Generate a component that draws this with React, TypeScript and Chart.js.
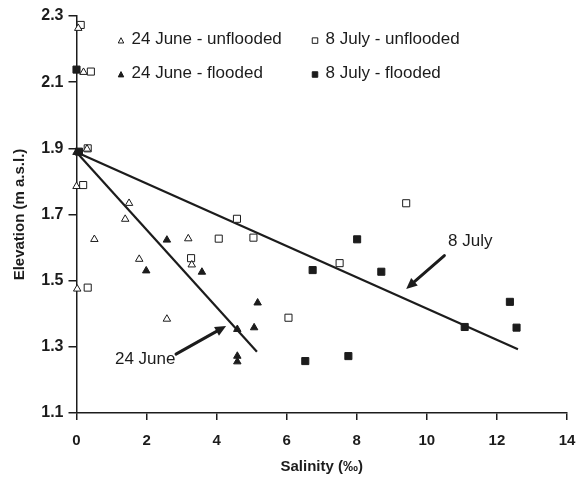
import React, { useEffect, useRef } from "react";
import { Chart, registerables } from "chart.js";

Chart.register(...registerables);

// ---- Data ----
const juneUnfloodedSalinity = [0.05, 0.2, 0.3, 0.0, 1.5, 1.39, 0.51, 3.19, 1.79, 3.29, 0.02, 2.58];
const juneUnfloodedElevation = [2.263, 2.13, 1.898, 1.785, 1.734, 1.686, 1.625, 1.627, 1.565, 1.548, 1.475, 1.384];

const juneFloodedSalinity = [0.0, 2.58, 1.99, 3.58, 5.17, 4.59, 5.07, 4.59, 4.59];
const juneFloodedElevation = [1.888, 1.623, 1.53, 1.526, 1.433, 1.353, 1.358, 1.272, 1.255];

const julyUnfloodedSalinity = [0.12, 0.41, 0.32, 0.19, 4.06, 5.05, 4.58, 3.27, 0.32, 7.51, 6.05, 9.41];
const julyUnfloodedElevation = [2.273, 2.132, 1.9, 1.789, 1.627, 1.63, 1.687, 1.568, 1.479, 1.553, 1.388, 1.734];

const julyFloodedSalinity = [0.0, 0.07, 6.74, 8.01, 8.7, 6.53, 7.76, 11.08, 12.37, 12.56];
const julyFloodedElevation = [2.138, 1.89, 1.532, 1.625, 1.527, 1.257, 1.272, 1.36, 1.436, 1.358];

const juneFitSalinity = [0, 5.15];
const juneFitElevation = [1.888, 1.285];
const julyFitSalinity = [0, 12.6];
const julyFitElevation = [1.888, 1.293];

const legendLabels = ["24 June - unflooded", "24 June - flooded", "8 July - unflooded", "8 July - flooded"];

const annotationLabels = ["24 June", "8 July"];
const annotationTextSalinity = [1.96, 11.24];
const annotationTextElevation = [1.262, 1.62];
const arrowTailSalinity = [2.84, 10.5];
const arrowTailElevation = [1.278, 1.576];
const arrowTipSalinity = [4.27, 9.41];
const arrowTipElevation = [1.363, 1.475];

const xMin = 0, xMax = 14, xStep = 2;
const yMin = 1.1, yMax = 2.3, yStep = 0.2;

const xTitle = "Salinity (‰)";
const yTitle = "Elevation (m a.s.l.)";

const FONT = '"Liberation Sans", Arial, Helvetica, sans-serif';
const INK = "#1c1c1c";

const zip = (xs: number[], ys: number[]) => xs.map((x, i) => ({ x, y: ys[i] }));

function drawMarker(ctx: CanvasRenderingContext2D, kind: string, filled: boolean, cx: number, cy: number, s: number) {
  ctx.beginPath();
  if (kind === "triangle") {
    const h = s * 0.87;
    ctx.moveTo(cx, cy - h / 2 - 0.5);
    ctx.lineTo(cx + s / 2, cy + h / 2);
    ctx.lineTo(cx - s / 2, cy + h / 2);
    ctx.closePath();
  } else {
    ctx.rect(cx - s / 2, cy - s / 2, s, s);
  }
  ctx.fillStyle = filled ? INK : "#ffffff";
  ctx.fill();
  ctx.lineWidth = 1;
  ctx.strokeStyle = INK;
  ctx.stroke();
}

const overlayPlugin = {
  id: "overlay",
  afterDatasetsDraw(chart: any) {
    const { ctx, chartArea, scales } = chart;
    const xs = scales.x;
    const ys = scales.y;
    ctx.save();
    // Legend (2 x 2 grid)
    const kinds = ["triangle", "triangle", "rect", "rect"];
    const filled = [false, true, false, true];
    const colOffsets = [44.5, 238.5];
    const rowOffsets = [23.6, 57.5];
    ctx.font = `17px ${FONT}`;
    ctx.textAlign = "left";
    ctx.textBaseline = "middle";
    legendLabels.forEach((lab, i) => {
      const col = Math.floor(i / 2);
      const row = i % 2;
      const mx = chartArea.left + colOffsets[col];
      const my = chartArea.top + rowOffsets[row];
      drawMarker(ctx, kinds[i], filled[i], mx, my + 1, 5.5);
      ctx.fillStyle = INK;
      ctx.fillText(lab, mx + 10.5, my);
    });

    // Arrows
    arrowTailSalinity.forEach((_, i) => {
      const x0 = xs.getPixelForValue(arrowTailSalinity[i]);
      const y0 = ys.getPixelForValue(arrowTailElevation[i]);
      const x1 = xs.getPixelForValue(arrowTipSalinity[i]);
      const y1 = ys.getPixelForValue(arrowTipElevation[i]);
      const ang = Math.atan2(y1 - y0, x1 - x0);
      const headLen = 11;
      const headW = 5;
      const bx = x1 - Math.cos(ang) * headLen;
      const by = y1 - Math.sin(ang) * headLen;
      ctx.beginPath();
      ctx.moveTo(x0, y0);
      ctx.lineTo(bx, by);
      ctx.lineWidth = 3;
      ctx.strokeStyle = INK;
      ctx.lineCap = "round";
      ctx.stroke();
      ctx.beginPath();
      ctx.moveTo(x1, y1);
      ctx.lineTo(bx + Math.sin(ang) * headW, by - Math.cos(ang) * headW);
      ctx.lineTo(bx - Math.sin(ang) * headW, by + Math.cos(ang) * headW);
      ctx.closePath();
      ctx.fillStyle = INK;
      ctx.fill();
    });

    // Annotation labels
    ctx.font = `17px ${FONT}`;
    ctx.textAlign = "center";
    ctx.textBaseline = "middle";
    ctx.fillStyle = INK;
    annotationLabels.forEach((lab, i) => {
      ctx.fillText(lab, xs.getPixelForValue(annotationTextSalinity[i]), ys.getPixelForValue(annotationTextElevation[i]));
    });
    ctx.restore();
  },
};

export default function App() {
  const canvasRef = useRef<HTMLCanvasElement | null>(null);

  useEffect(() => {
    document.body.style.margin = "0";
    const canvas = canvasRef.current;
    if (!canvas) return;

    const openStyle = { backgroundColor: "#ffffff", borderColor: INK, borderWidth: 1 };
    const fillStyle = { backgroundColor: INK, borderColor: INK, borderWidth: 1 };

    const chart = new Chart(canvas, {
      type: "scatter",
      data: {
        datasets: [
          {
            label: "24 June fit",
            data: zip(juneFitSalinity, juneFitElevation),
            showLine: true,
            borderColor: INK,
            borderWidth: 2.2,
            pointRadius: 0,
            order: 10,
            clip: false,
          },
          {
            label: "8 July fit",
            data: zip(julyFitSalinity, julyFitElevation),
            showLine: true,
            borderColor: INK,
            borderWidth: 2.2,
            pointRadius: 0,
            order: 10,
            clip: false,
          },
          {
            label: legendLabels[2],
            data: zip(julyUnfloodedSalinity, julyUnfloodedElevation),
            pointStyle: "rect",
            pointRadius: 5,
            ...openStyle,
            order: 4,
            clip: false,
          },
          {
            label: legendLabels[3],
            data: zip(julyFloodedSalinity, julyFloodedElevation),
            pointStyle: "rect",
            pointRadius: 5,
            ...fillStyle,
            order: 3,
            clip: false,
          },
          {
            label: legendLabels[0],
            data: zip(juneUnfloodedSalinity, juneUnfloodedElevation),
            pointStyle: "triangle",
            pointRadius: 4.3,
            ...openStyle,
            order: 2,
            clip: false,
          },
          {
            label: legendLabels[1],
            data: zip(juneFloodedSalinity, juneFloodedElevation),
            pointStyle: "triangle",
            pointRadius: 4.3,
            ...fillStyle,
            order: 1,
            clip: false,
          },
        ],
      },
      options: {
        animation: false,
        responsive: false,
        maintainAspectRatio: false,
        layout: { padding: { left: 0, right: 9, top: 16, bottom: 0 } },
        plugins: {
          legend: { display: false },
          tooltip: { enabled: false },
          title: { display: false },
        },
        scales: {
          x: {
            type: "linear",
            min: xMin,
            max: xMax,
            afterFit: (scale: any) => {
              scale.height = 68;
              scale.paddingRight = 0;
              scale.paddingLeft = 0;
            },
            ticks: {
              stepSize: xStep,
              color: INK,
              font: { family: FONT, size: 15, weight: "bold" },
              padding: 12,
              maxRotation: 0,
            },
            grid: {
              display: true,
              drawOnChartArea: false,
              drawTicks: true,
              tickLength: 7,
              color: INK,
              lineWidth: 1.5,
            },
            border: { display: true, color: INK, width: 1.5 },
            title: {
              display: true,
              text: xTitle,
              color: INK,
              font: { family: FONT, size: 15, weight: "bold" },
              padding: { top: 0, bottom: 5 },
            },
          },
          y: {
            type: "linear",
            min: yMin,
            max: yMax,
            afterFit: (scale: any) => {
              scale.width = 76.5;
              scale.paddingTop = 0;
              scale.paddingBottom = 0;
            },
            ticks: {
              stepSize: yStep,
              color: INK,
              font: { family: FONT, size: 16, weight: "bold" },
              padding: 5,
              callback: (v: any) => Number(v).toFixed(1),
            },
            grid: {
              display: true,
              drawOnChartArea: false,
              drawTicks: true,
              tickLength: 8,
              color: INK,
              lineWidth: 1.5,
            },
            border: { display: true, color: INK, width: 1.5 },
            title: {
              display: true,
              text: yTitle,
              color: INK,
              font: { family: FONT, size: 15, weight: "bold" },
              padding: { top: 11, bottom: 0 },
            },
          },
        },
      },
      plugins: [overlayPlugin],
    });

    return () => {
      chart.destroy();
    };
  }, []);

  return (
    <div style={{ width: 576, height: 481, background: "#ffffff" }}>
      <canvas ref={canvasRef} width={576} height={481} style={{ display: "block" }} />
    </div>
  );
}
